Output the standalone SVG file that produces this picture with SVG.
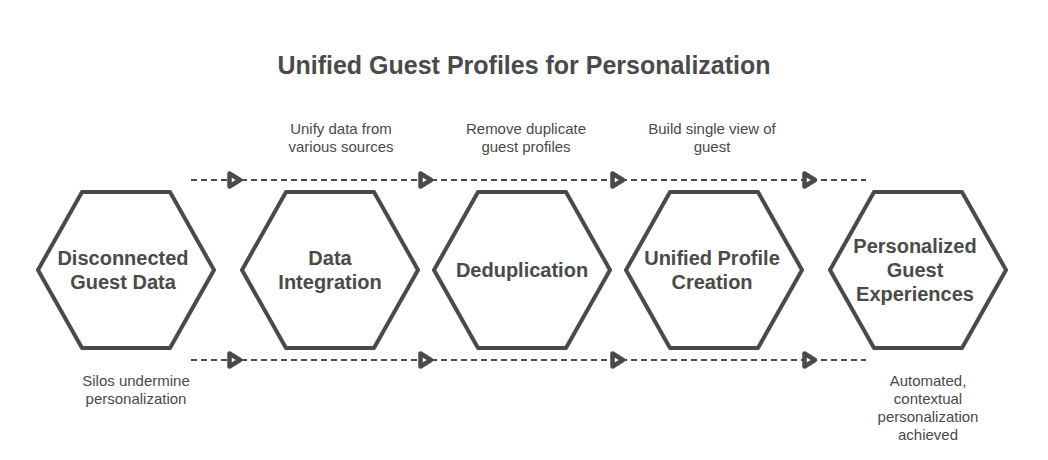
<svg xmlns="http://www.w3.org/2000/svg" width="1048" height="460" viewBox="0 0 1048 460">
<style>
text{font-family:"Liberation Sans",Arial,sans-serif;fill:#4a4a4a;text-anchor:middle}
.t{font-size:25px;font-weight:700}
.n{font-size:20px;font-weight:700}
.l{font-size:15px}
.h{fill:#fff;stroke:#4a4a4a;stroke-width:4;stroke-linejoin:round}
.c{fill:none;stroke:#4a4a4a;stroke-width:2;stroke-dasharray:6 4}
.a{fill:#fff;stroke:#4a4a4a;stroke-width:4.5;stroke-linejoin:round}
</style>
<defs>
<polygon id="hex" class="h" points="-88,0 -44,-78 44,-78 88,0 44,78 -44,78"/>
<polygon id="arr" class="a" points="-12.5,-6.5 -12.5,6.5 -2,0"/>
</defs>
<rect width="1048" height="460" fill="#fff"/>
<text class="t" x="524" y="74">Unified Guest Profiles for Personalization</text>
<g id="connectors">
<path class="c" d="M191 180H866"/>
<path class="c" d="M191 360H866"/>
<use href="#arr" x="242" y="180"/><use href="#arr" x="433" y="180"/><use href="#arr" x="625" y="180"/><use href="#arr" x="817" y="180"/>
<use href="#arr" x="242" y="360"/><use href="#arr" x="433" y="360"/><use href="#arr" x="625" y="360"/><use href="#arr" x="817" y="360"/>
</g>
<g id="node-disconnected"><use href="#hex" x="126" y="270"/><text class="n" x="123" y="265">Disconnected</text><text class="n" x="123" y="289">Guest Data</text></g>
<g id="node-integration"><use href="#hex" x="330" y="270"/><text class="n" x="330" y="265">Data</text><text class="n" x="330" y="289">Integration</text></g>
<g id="node-dedup"><use href="#hex" x="522" y="270"/><text class="n" x="522" y="277">Deduplication</text></g>
<g id="node-unified"><use href="#hex" x="714" y="270"/><text class="n" x="712" y="265">Unified Profile</text><text class="n" x="712" y="289">Creation</text></g>
<g id="node-personalized"><use href="#hex" x="918" y="270"/><text class="n" x="915" y="253">Personalized</text><text class="n" x="915" y="277">Guest</text><text class="n" x="915" y="301">Experiences</text></g>
<g id="labels">
<text class="l" x="341" y="134">Unify data from</text><text class="l" x="341" y="152">various sources</text>
<text class="l" x="526" y="134">Remove duplicate</text><text class="l" x="526" y="152">guest profiles</text>
<text class="l" x="712" y="134">Build single view of</text><text class="l" x="712" y="152">guest</text>
<text class="l" x="136" y="386">Silos undermine</text><text class="l" x="136" y="404">personalization</text>
<text class="l" x="928" y="386">Automated,</text><text class="l" x="928" y="404">contextual</text><text class="l" x="928" y="422">personalization</text><text class="l" x="928" y="440">achieved</text>
</g>
</svg>
